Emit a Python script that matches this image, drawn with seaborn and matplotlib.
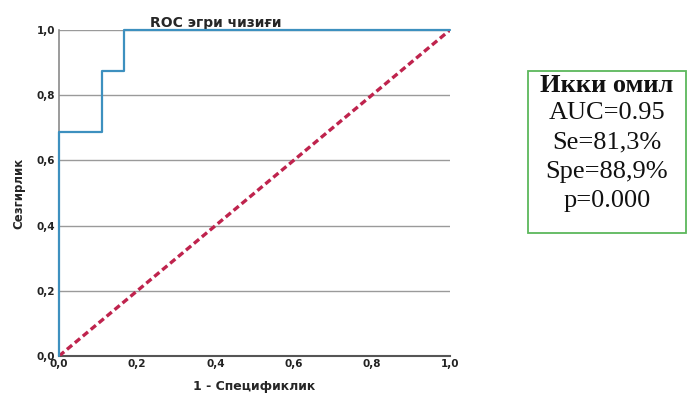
import matplotlib
matplotlib.use("Agg")
import matplotlib.pyplot as plt
import seaborn as sns
import pandas as pd

# ROC curve points (1 - specificity, sensitivity)
fpr = [0.0, 0.0, 0.111, 0.111, 0.167, 0.167, 1.0]
tpr = [0.0, 0.6875, 0.6875, 0.875, 0.875, 1.0, 1.0]
ref_x = [0.0, 1.0]
ref_y = [0.0, 1.0]
tick_vals = [0.0, 0.2, 0.4, 0.6, 0.8, 1.0]
tick_labels = ["0,0", "0,2", "0,4", "0,6", "0,8", "1,0"]
stats_title = "Икки омил"
stats_lines = ["AUC=0.95", "Se=81,3%", "Spe=88,9%", "p=0.000"]

sns.set_theme(style="white")
plt.rcParams["font.family"] = ["DejaVu Sans"]

fig = plt.figure(figsize=(6.88, 3.94), dpi=100)
ax = fig.add_axes([0.0858, 0.0964, 0.5683, 0.8275])

roc = pd.DataFrame({"fpr": fpr, "tpr": tpr})
diag = pd.DataFrame({"x": ref_x, "y": ref_y})

for v in tick_vals[1:]:
    ax.axhline(v, color="#9a9a9a", lw=1.0, zorder=0)

sns.lineplot(data=diag, x="x", y="y", ax=ax, color="#bf234d", lw=2.4,
             linestyle=(0, (2.0, 1.1)), sort=False, estimator=None, zorder=3)
sns.lineplot(data=roc, x="fpr", y="tpr", ax=ax, color="#3d90bf", lw=1.6,
             sort=False, estimator=None, zorder=5, clip_on=False)

ax.set_xlim(0, 1)
ax.set_ylim(0, 1)
ax.set_xticks(tick_vals)
ax.set_xticklabels(tick_labels)
ax.set_yticks(tick_vals)
ax.set_yticklabels(tick_labels)
ax.tick_params(axis="x", length=0, labelsize=7.5, pad=2)
ax.tick_params(axis="y", length=0, labelsize=7.5, pad=3)
for lab in ax.get_xticklabels() + ax.get_yticklabels():
    lab.set_fontweight("bold")
    lab.set_color("#222222")

for s in ["top", "right"]:
    ax.spines[s].set_visible(False)
ax.spines["left"].set_color("#8a8a8a")
ax.spines["left"].set_linewidth(1.2)
ax.spines["left"].set_zorder(1)
ax.spines["bottom"].set_color("#555555")
ax.spines["bottom"].set_linewidth(1.5)

ax.set_xlabel("1 - Спецификлик", fontsize=9, fontweight="bold", labelpad=8)
ax.set_ylabel("Сезгирлик", fontsize=8.5, fontweight="bold", labelpad=8)
ax.set_title("ROC эгри чизиғи", fontsize=10, fontweight="bold", pad=2, x=0.4)

# statistics box on the right
box_x0, box_y0, box_w, box_h = 528 / 688, 1 - 233 / 394, 158 / 688, 162 / 394
rect = plt.Rectangle((box_x0, box_y0), box_w, box_h, transform=fig.transFigure,
                     facecolor="white", edgecolor="#5cb85c", lw=1.3)
fig.patches.append(rect)
cx = box_x0 + box_w / 2
fig.text(cx, 1 - 85 / 394, stats_title, ha="center", va="center",
         fontsize=19, fontweight="bold", family="Liberation Serif", color="#111111")
for i, line in enumerate(stats_lines):
    fig.text(cx, 1 - (113 + i * 29.5) / 394, line, ha="center", va="center",
             fontsize=19, family="Liberation Serif", color="#111111")

fig.savefig("out.png", dpi=100)
